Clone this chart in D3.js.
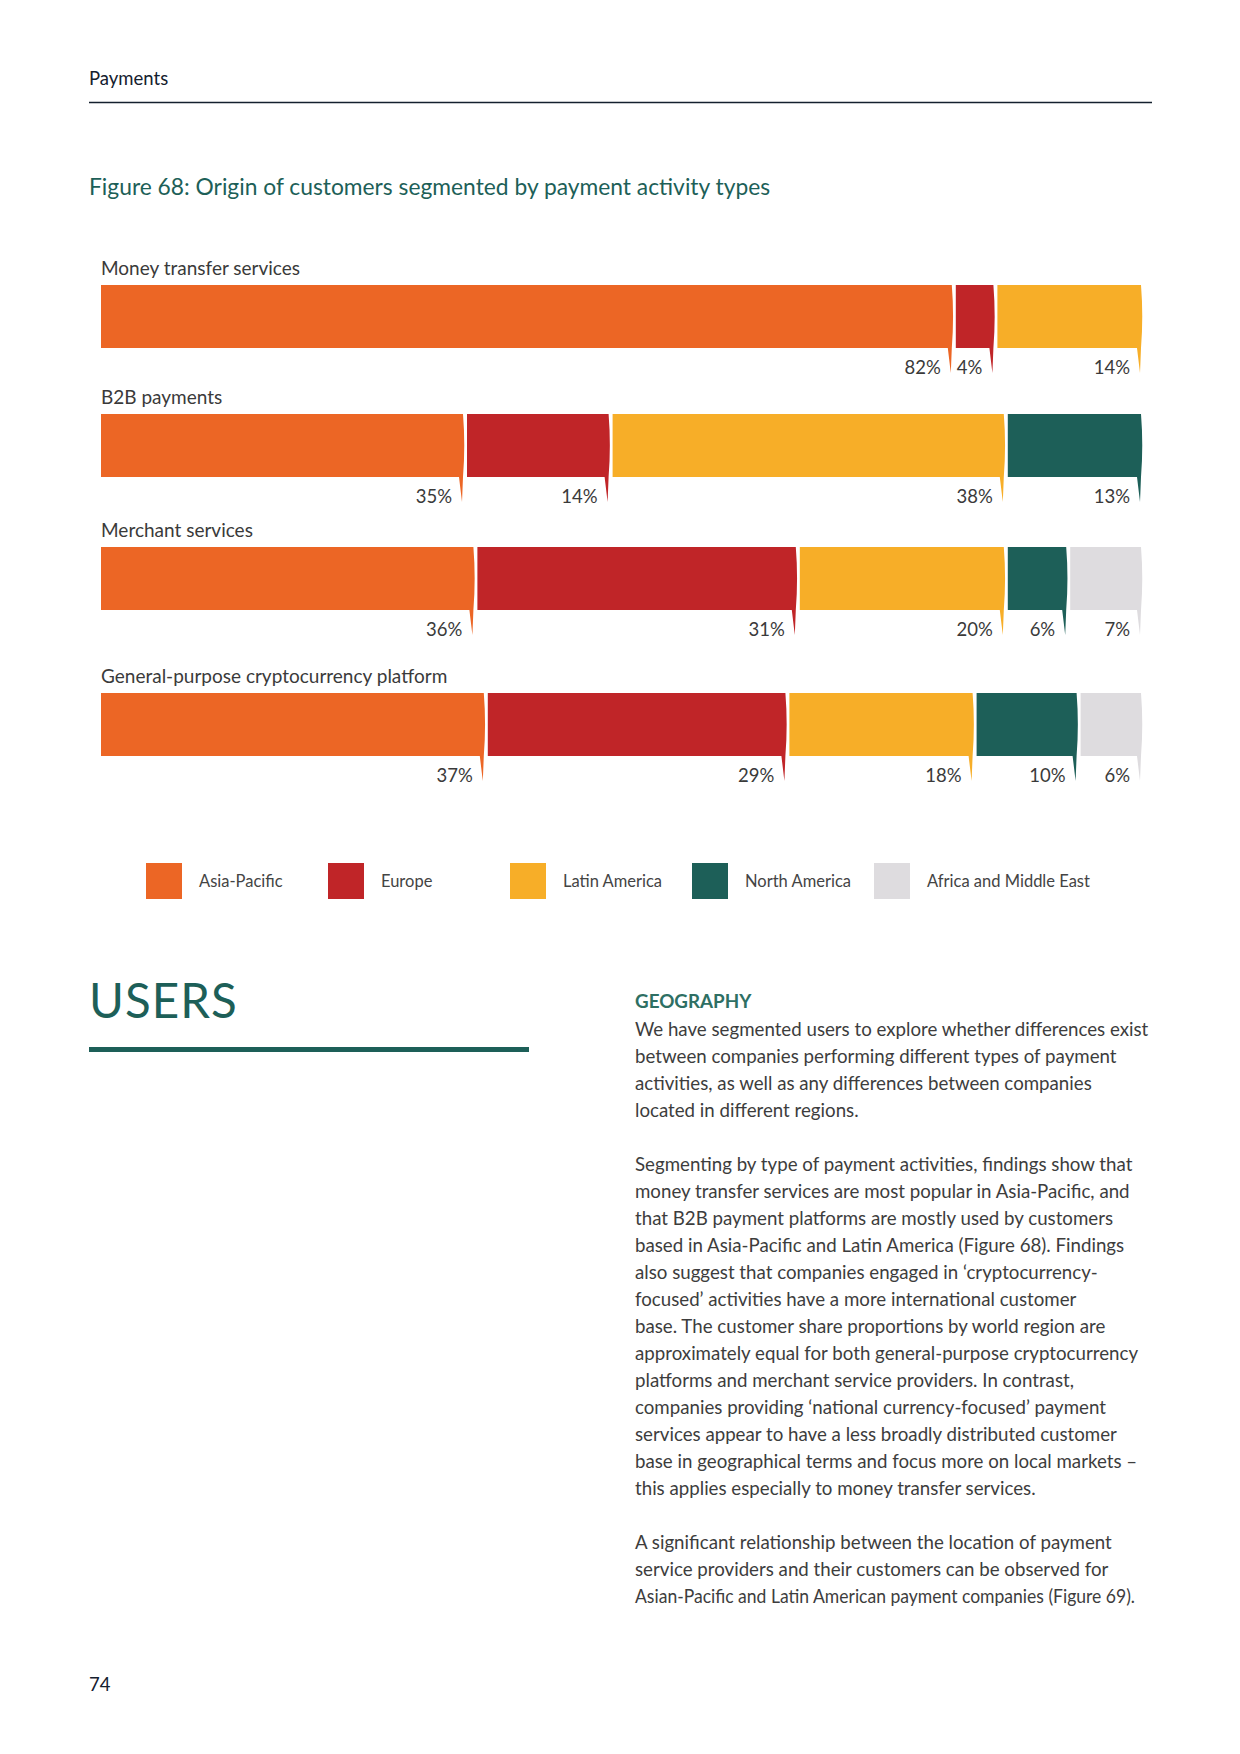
<!DOCTYPE html>
<html>
<head>
<meta charset="utf-8">
<script src="https://cdnjs.cloudflare.com/ajax/libs/d3/7.8.5/d3.min.js"></script>
<style>
  body { margin: 0; background: #fff; }
  svg { display: block; font-family: "Lato", "Open Sans", sans-serif; }
</style>
</head>
<body>
<div id="page"></div>
<script>
// chart data
var categories = ["Money transfer services", "B2B payments", "Merchant services", "General-purpose cryptocurrency platform"];
var regions = ["Asia-Pacific", "Europe", "Latin America", "North America", "Africa and Middle East"];
var asiaPacific = [82, 35, 36, 37];
var europe = [4, 14, 31, 29];
var latinAmerica = [14, 38, 20, 18];
var northAmerica = [0, 13, 6, 10];
var africaMiddleEast = [0, 0, 7, 6];
var colors = ["#ec6625", "#c02528", "#f7ae28", "#1d5f58", "#dedcdf"];

var paragraphs = [
	["We have segmented users to explore whether differences exist",
	 "between companies performing different types of payment",
	 "activities, as well as any differences between companies",
	 "located in different regions."],
	["Segmenting by type of payment activities, findings show that",
	 "money transfer services are most popular in Asia-Pacific, and",
	 "that B2B payment platforms are mostly used by customers",
	 "based in Asia-Pacific and Latin America (Figure 68). Findings",
	 "also suggest that companies engaged in \u2018cryptocurrency-",
	 "focused\u2019 activities have a more international customer",
	 "base. The customer share proportions by world region are",
	 "approximately equal for both general-purpose cryptocurrency",
	 "platforms and merchant service providers. In contrast,",
	 "companies providing \u2018national currency-focused\u2019 payment",
	 "services appear to have a less broadly distributed customer",
	 "base in geographical terms and focus more on local markets \u2013",
	 "this applies especially to money transfer services."],
	["A significant relationship between the location of payment",
	 "service providers and their customers can be observed for",
	 "Asian-Pacific and Latin American payment companies (Figure 69)."]
];

var width = 1240, height = 1754;
var svg = d3.select("#page").append("svg")
	.attr("width", width)
	.attr("height", height);

// page header
svg.append("text").attr("x", 89).attr("y", 85)
	.attr("font-size", 18.5).attr("fill", "#14202e").text("Payments");
svg.append("line").attr("x1", 89).attr("x2", 1152).attr("y1", 102.5).attr("y2", 102.5)
	.attr("stroke", "#14202e").attr("stroke-width", 1.5);

svg.append("text").attr("x", 89).attr("y", 195)
	.attr("font-size", 22.8).attr("fill", "#1d5f58")
	.text("Figure 68: Origin of customers segmented by payment activity types");

// table for stacking
var table = categories.map(function(c, i) {
	return {
		category: c,
		"Asia-Pacific": asiaPacific[i],
		"Europe": europe[i],
		"Latin America": latinAmerica[i],
		"North America": northAmerica[i],
		"Africa and Middle East": africaMiddleEast[i]
	};
});
var series = d3.stack().keys(regions)(table);

var x = d3.scaleLinear().domain([0, 100]).range([101, 1141]);
var barTop = d3.scaleOrdinal().domain(categories).range([285, 414, 547, 693]);
var barH = 63;
var color = d3.scaleOrdinal().domain(regions).range(colors);

var g = svg.append("g");

g.selectAll(".cat")
	.data(categories)
  .enter().append("text")
	.attr("class", "cat")
	.attr("x", x(0))
	.attr("y", function(d) { return barTop(d) - 10; })
	.attr("font-size", 19)
	.attr("fill", "#3a3a3a")
	.text(function(d) { return d; });

// segment with slightly bulging right edge and a thin pointer below it
function segPath(x0, x1, y0, h) {
	var y1 = y0 + h, m = y0 + h / 2;
	return "M" + x0 + "," + y0 + "H" + x1 +
		"Q" + (x1 + 2.5) + "," + m + " " + x1 + "," + y1 +
		"L" + (x1 - 1) + "," + (y1 + 25) +
		"L" + (x1 - 4) + "," + y1 +
		"H" + x0 + "Z";
}

var segs = [];
series.forEach(function(s) {
	s.forEach(function(d) {
		var v = d[1] - d[0];
		if (v <= 0) return;
		segs.push({ region: s.key, category: d.data.category, v: v, x0: d[0], x1: d[1], first: d[0] === 0, last: d[1] >= 100 });
	});
});

function segEnd(d) { return x(d.x1) - (d.last ? 0 : 2); }

g.selectAll(".seg")
	.data(segs)
  .enter().append("path")
	.attr("class", "seg")
	.attr("fill", function(d) { return color(d.region); })
	.attr("d", function(d) {
		var a = x(d.x0) + (d.first ? 0 : 2);
		return segPath(a, segEnd(d), barTop(d.category), barH);
	});

g.selectAll(".pct")
	.data(segs)
  .enter().append("text")
	.attr("class", "pct")
	.attr("x", function(d) { return segEnd(d) - 11; })
	.attr("y", function(d) { return barTop(d.category) + barH + 26; })
	.attr("text-anchor", "end")
	.attr("font-size", 18.5)
	.attr("fill", "#3a3a3a")
	.text(function(d) { return d.v + "%"; });

// legend
var lx = d3.scalePoint().domain(regions).range([146, 874]);
var leg = svg.append("g").selectAll(".leg")
	.data(regions)
  .enter().append("g")
	.attr("transform", function(d) { return "translate(" + lx(d) + ",863)"; });
leg.append("rect").attr("width", 36).attr("height", 36)
	.attr("fill", function(d) { return color(d); });
leg.append("text").attr("x", 53).attr("y", 24)
	.attr("font-size", 16.5).attr("fill", "#444")
	.text(function(d) { return d; });

// section heading
svg.append("text").attr("x", 89).attr("y", 1018)
	.attr("font-size", 47.5).attr("letter-spacing", 1).attr("fill", "#1d5f58")
	.text("USERS");
svg.append("rect").attr("x", 89).attr("y", 1047).attr("width", 440).attr("height", 5)
	.attr("fill", "#1d5f58");

// body text
var tx = 635, lineH = 27;
svg.append("text").attr("x", tx).attr("y", 1008)
	.attr("font-size", 18.8).attr("font-weight", "bold").attr("fill", "#2e6f63")
	.text("GEOGRAPHY");
var lineNo = 0;
paragraphs.forEach(function(p, pi) {
	p.forEach(function(line, li) {
		var t = svg.append("text").attr("x", tx).attr("y", 1036 + lineNo * lineH)
			.attr("font-size", 18.7).attr("fill", "#3d3d3d")
			.text(line);
		if (pi === 2 && li === 2) t.attr("textLength", 500).attr("lengthAdjust", "spacingAndGlyphs");
		lineNo++;
	});
	lineNo++;
});

svg.append("text").attr("x", 89).attr("y", 1691)
	.attr("font-size", 18.5).attr("fill", "#14202e").text("74");
</script>
</body>
</html>
